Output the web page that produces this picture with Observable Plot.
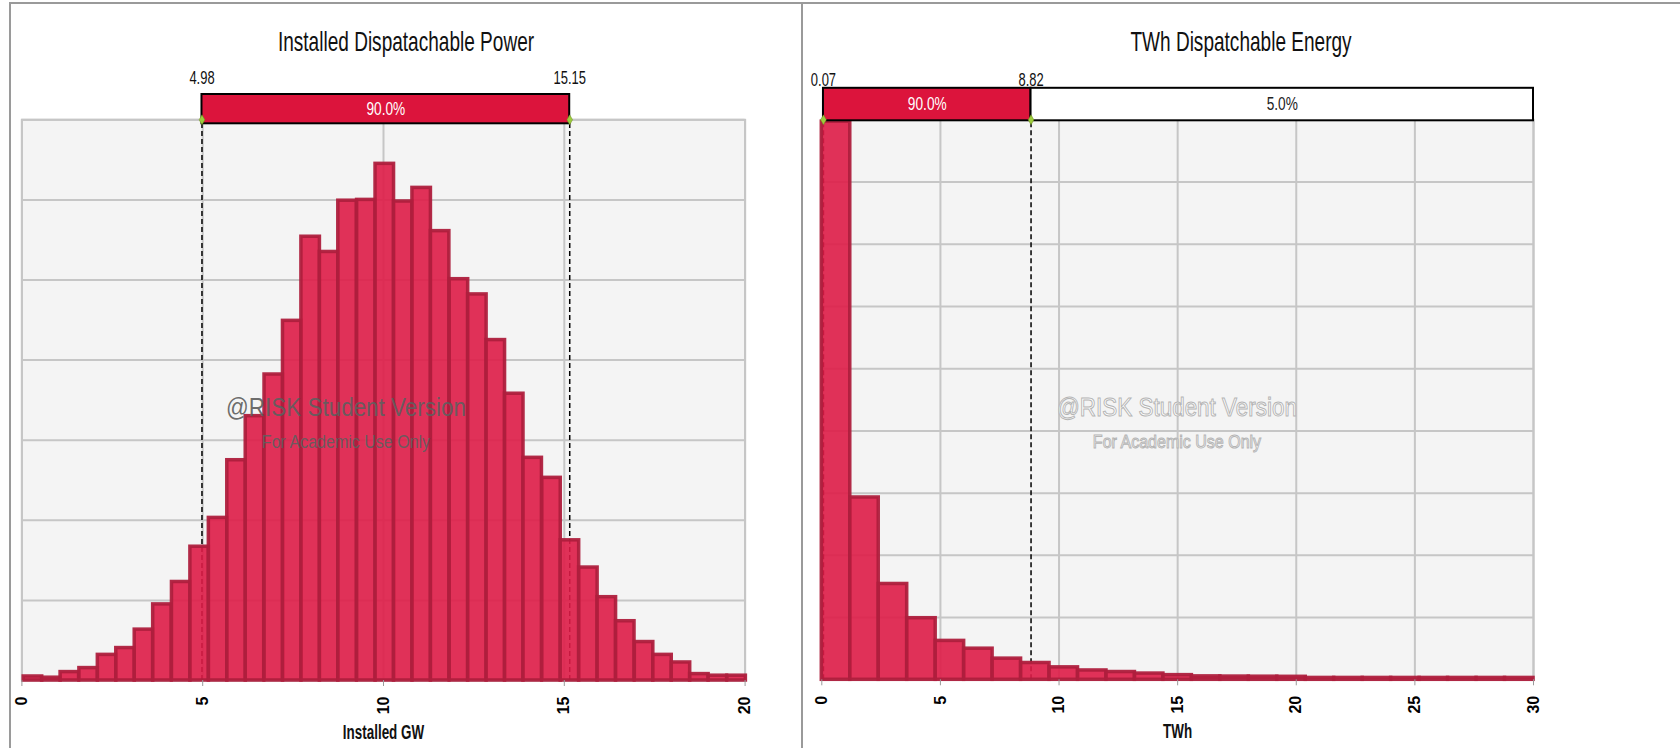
<!DOCTYPE html>
<html>
<head>
<meta charset="utf-8">
<script src="https://cdn.jsdelivr.net/npm/d3@7"></script>
<script src="https://cdn.jsdelivr.net/npm/@observablehq/plot@0.6"></script>
<style>
  html, body { margin: 0; padding: 0; background: #fff; }
  #root { position: relative; width: 1680px; height: 748px; overflow: hidden; background: #fff; }
  .svgwrap { position: absolute; top: 0; }
  .line { position: absolute; background: #9a9a9a; }
  .title { position: absolute; top: 28px; font-family: "Liberation Sans", Arial, sans-serif;
           font-size: 28px; line-height: 28px; color: #111; white-space: nowrap;
           transform: translateX(-50%) scaleX(0.68); }
  .wm1, .wm2 { position: absolute; white-space: nowrap; line-height: 1;
               font-family: "Liberation Sans", Arial, sans-serif; }
  .wm1 { font-size: 25.5px; transform: translate(-50%, -50%) scaleX(0.88); }
  .wm2 { font-size: 18px; transform: translate(-50%, -50%) scaleX(0.89); }
  .wmgray { color: rgba(95,95,95,0.92); }
  .wmhollow { color: #ffffff; -webkit-text-stroke: 1px #b4b4b4; }
</style>
</head>
<body>
<div id="root"></div>
<script>
// ---------------- DATA ----------------
// Installed Dispatachable Power (GW) histogram
const powerBinStart = [0.05, 0.56, 1.07, 1.59, 2.10, 2.61, 3.12, 3.63, 4.15, 4.66,
                       5.17, 5.68, 6.19, 6.71, 7.22, 7.73, 8.24, 8.75, 9.27, 9.78,
                       10.29, 10.80, 11.31, 11.83, 12.34, 12.85, 13.36, 13.87, 14.39, 14.90,
                       15.41, 15.92, 16.43, 16.95, 17.46, 17.97, 18.48, 18.99, 19.51];
const powerBinWidth = 0.5115;
const powerFreq = [0.05, 0.035, 0.105, 0.155, 0.32, 0.405, 0.635, 0.95, 1.23, 1.67,
                   2.03, 2.75, 3.30, 3.82, 4.49, 5.54, 5.35, 5.99, 6.00, 6.45,
                   5.98, 6.15, 5.61, 5.01, 4.82, 4.25, 3.58, 2.78, 2.53, 1.75,
                   1.41, 1.04, 0.74, 0.48, 0.32, 0.225, 0.08, 0.06, 0.06];
const powerXDomain = [0, 20];
const powerXTicks = [0, 5, 10, 15, 20];
const powerYGrid = [0, 1, 2, 3, 4, 5, 6, 7];
const powerRangeEdges = [4.98, 15.15];
const powerRangeLabels = ["4.98", "15.15"];
const powerRangePct = ["90.0%"];

// TWh Dispatchable Energy histogram
const energyBinStart = [0, 1.2, 2.4, 3.6, 4.8, 6.0, 7.2, 8.4, 9.6, 10.8,
                        12.0, 13.2, 14.4, 15.6, 16.8, 18.0, 19.2, 20.4, 21.6, 22.8,
                        24.0, 25.2, 26.4, 27.6, 28.8];
const energyBinWidth = 1.2;
const energyFreq = [8.97, 2.93, 1.54, 0.99, 0.625, 0.50, 0.34, 0.27, 0.20, 0.15,
                    0.125, 0.10, 0.075, 0.055, 0.052, 0.05, 0.048, 0.03, 0.03, 0.03,
                    0.03, 0.03, 0.03, 0.03, 0.03];
const energyXDomain = [0, 30];
const energyXTicks = [0, 5, 10, 15, 20, 25, 30];
const energyYGrid = [0, 1, 2, 3, 4, 5, 6, 7, 8, 9];
const energyRangeEdges = [0.07, 8.82, 30];
const energyRangeLabels = ["0.07", "8.82"];
const energyRangeLabelAt = [0.07, 8.82];
const energyRangePct = ["90.0%", "5.0%"];

const titles = ["Installed Dispatachable Power", "TWh Dispatchable Energy"];
const axisTitles = ["Installed GW", "TWh"];
const watermark = ["@RISK Student Version", "For Academic Use Only"];

// ---------------- STYLE ----------------
const SANS = '"Liberation Sans", Arial, sans-serif';
const BAR_FILL = "#de1c47";
const BAR_STROKE = "#ae1f3d";
const GRID = "#c6c6c6";
const CRIMSON = "#dc143c";

// horizontally condense the text of a rendered text mark (the source font is narrow)
function squeeze(g, s) {
  if (!g) return;
  g.querySelectorAll("text").forEach(t => {
    const x = +t.getAttribute("x") || 0, y = +t.getAttribute("y") || 0;
    const tr = t.getAttribute("transform") || "";
    t.setAttribute("transform", `${tr} translate(${x},${y}) scale(${s},1) translate(${-x},${-y})`);
  });
}

function panel(cfg) {
  const bins = cfg.starts.map((s, i) => ({x1: s, x2: s + cfg.binWidth, v: cfg.freq[i]}));
  const segs = cfg.pct.map((p, i) => ({a: cfg.edges[i], b: cfg.edges[i + 1], pct: p, i}));
  const labels = cfg.labelAt.map((x, i) => ({x, t: cfg.labels[i]}));
  const yMax = cfg.yGrid[cfg.yGrid.length - 1];
  const top = () => yMax;
  const svg = Plot.plot({
    width: cfg.width, height: 748,
    marginLeft: cfg.ml, marginRight: cfg.mr, marginTop: 119.3, marginBottom: cfg.mb,
    style: {background: "transparent", overflow: "visible", fontFamily: SANS},
    x: {domain: cfg.xDomain},
    y: {domain: [0, yMax], axis: null},
    marks: [
      Plot.frame({fill: "#f4f4f4"}),
      Plot.gridX(cfg.xTicks, {stroke: GRID, strokeOpacity: 1, strokeWidth: 2}),
      Plot.gridY(cfg.yGrid, {stroke: GRID, strokeOpacity: 1, strokeWidth: 2}),
      Plot.frame({stroke: GRID, strokeWidth: 2}),
      Plot.ruleX(cfg.labelAt, {y1: 0, y2: top, stroke: "#000", strokeWidth: 1.5, strokeDasharray: "5,3"}),
      Plot.rectY(bins, {x1: "x1", x2: "x2", y: "v", fill: BAR_FILL, fillOpacity: 0.9,
                        stroke: BAR_STROKE, strokeWidth: 3.5, strokeOpacity: 0.95}),
      Plot.axisX(cfg.xTicks, {tickRotate: -90, tickSize: 6, tickPadding: 10, stroke: "#9a9a9a",
                              fill: "#000", fontSize: 16, fontWeight: "bold",
                              fontFamily: SANS, label: null}),
      Plot.rect(segs, {x1: "a", x2: "b", y1: top, y2: top,
                       insetTop: cfg.barTop, insetBottom: cfg.barBottom,
                       fill: d => d.i === 0 ? CRIMSON : "#ffffff", stroke: "#000", strokeWidth: 2}),
      Plot.text(segs, {x: d => (d.a + d.b) / 2, y: top, dy: cfg.pctDy, text: "pct",
                       fill: d => d.i === 0 ? "#ffffff" : "#222", fontSize: 19}),
      Plot.dot(cfg.labelAt, {x: d => d, y: top, symbol: "diamond", r: 3, fill: "#9ccc3c", stroke: "#6f8f20", strokeWidth: 0.5}),
      Plot.text(labels, {x: "x", y: top, dy: cfg.labelDy, text: "t", fill: "#111", fontSize: 18}),
      Plot.text([cfg.axisTitle], {frameAnchor: "bottom", dy: 58, text: d => d, fontWeight: "bold",
                                  fontSize: 21, fill: "#111"})
    ]
  });
  const tg = svg.querySelectorAll('g[aria-label="text"]');
  squeeze(tg[0], 0.72);
  squeeze(tg[1], 0.72);
  squeeze(tg[2], 0.64);
  return svg;
}

const root = document.getElementById("root");

function addWrap(left, node) {
  const w = document.createElement("div");
  w.className = "svgwrap";
  w.style.left = left + "px";
  w.appendChild(node);
  root.appendChild(w);
}

addWrap(0, panel({
  width: 802, ml: 21.4, mr: 57.4, mb: 68,
  starts: powerBinStart, binWidth: powerBinWidth, freq: powerFreq,
  xDomain: powerXDomain, xTicks: powerXTicks, yGrid: powerYGrid,
  edges: powerRangeEdges, pct: powerRangePct, labels: powerRangeLabels, labelAt: powerRangeEdges,
  barTop: -25.3, barBottom: -4, pctDy: -11, labelDy: -42,
  axisTitle: axisTitles[0]
}));

addWrap(802, panel({
  width: 878, ml: 19.3, mr: 147, mb: 68.7,
  starts: energyBinStart, binWidth: energyBinWidth, freq: energyFreq,
  xDomain: energyXDomain, xTicks: energyXTicks, yGrid: energyYGrid,
  edges: energyRangeEdges, pct: energyRangePct, labels: energyRangeLabels, labelAt: energyRangeLabelAt,
  barTop: -31.5, barBottom: -1, pctDy: -16, labelDy: -40,
  axisTitle: axisTitles[1]
}));

// panel frame lines
function line(l, t, w, h) {
  const d = document.createElement("div");
  d.className = "line";
  Object.assign(d.style, {left: l + "px", top: t + "px", width: w + "px", height: h + "px"});
  root.appendChild(d);
}
line(9, 2, 1671, 2);
line(9, 2, 2, 746);
line(801, 2, 2, 746);

// titles and watermarks
function addText(cls, txt, x, y) {
  const d = document.createElement("div");
  d.className = cls;
  d.textContent = txt;
  d.style.left = x + "px";
  if (y !== undefined) d.style.top = y + "px";
  root.appendChild(d);
}
addText("title", titles[0], 406);
addText("title", titles[1], 1241);

addText("wm1 wmgray", watermark[0], 346, 408);
addText("wm2 wmgray", watermark[1], 346, 442);
addText("wm1 wmhollow", watermark[0], 1177, 408);
addText("wm2 wmhollow", watermark[1], 1177, 442);
</script>
</body>
</html>
